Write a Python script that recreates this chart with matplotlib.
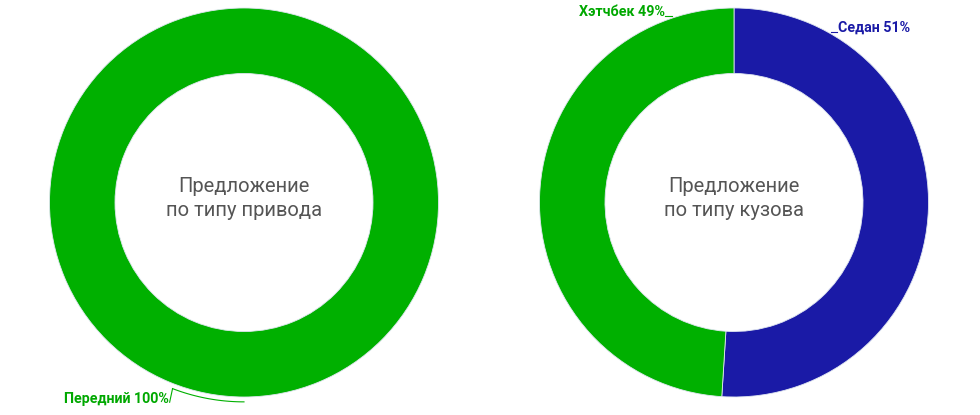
import numpy as np
import matplotlib.pyplot as plt

plt.rcParams['font.family'] = ['Roboto', 'DejaVu Sans']

# drive type
drive_labels = ["Передний"]
drive_values = [100]
drive_colors = ["#00b000"]

# body type
body_labels = ["Седан", "Хэтчбек"]
body_values = [51, 49]
body_colors = ["#1a1aa6", "#00b000"]

titles = ["Предложение\nпо типу привода", "Предложение\nпо типу кузова"]

W, H = 980, 415
fig = plt.figure(figsize=(W / 100, H / 100), dpi=100)

R = 194.5
ring = (194.5 - 129) / 194.5
LABEL_SIZE = 10.3


def make_ax(cx, cy):
    return fig.add_axes([(cx - R) / W, (H - cy - R) / H, 2 * R / W, 2 * R / H])


def donut(ax, values, colors, title):
    ax.pie(values, colors=colors, startangle=90, counterclock=False, radius=1,
           wedgeprops=dict(width=ring, edgecolor="#dfe6f0", linewidth=0.6))
    ax.set_xlim(-1, 1)
    ax.set_ylim(-1, 1)
    ax.set_aspect("equal")
    ax.axis("off")
    ax.text(0, 0.02, title, ha="center", va="center", fontsize=14.5,
            color="#555555", linespacing=1.3)


# left chart
ax1 = make_ax(244, 202.5)
donut(ax1, drive_values, drive_colors, titles[0])
# leader following the arc from the slice middle
mid = 90 - drive_values[0] / sum(drive_values) * 180
t = np.radians(np.linspace(mid, mid - 21, 30))
r = 1.025
ax1.plot(r * np.cos(t), r * np.sin(t), color="#00b000", lw=0.8, clip_on=False)
ex, ey = r * np.cos(t[-1]), r * np.sin(t[-1])
ax1.plot([ex, ex - 0.015], [ey, ey - 0.07], color="#00b000", lw=0.8, clip_on=False)
ax1.text(ex - 0.02, ey - 0.055, f"{drive_labels[0]} {drive_values[0]}%",
         ha="right", va="center", fontsize=LABEL_SIZE, fontweight="bold",
         color="#00a800", clip_on=False)

# right chart
ax2 = make_ax(734, 202.5)
donut(ax2, body_values, body_colors, titles[1])
# Седан label (upper right)
sx, sy = 0.5, 0.877
ax2.plot([sx, sx + 0.03], [sy, sy], color=body_colors[0], lw=0.8, clip_on=False)
ax2.text(sx + 0.035, sy + 0.022, f"{body_labels[0]} {body_values[0]}%",
         ha="left", va="center", fontsize=LABEL_SIZE, fontweight="bold",
         color=body_colors[0], clip_on=False)
# Хэтчбек label (upper left)
hx, hy = -0.32, 0.959
ax2.plot([hx - 0.035, hx], [hy, hy], color="#00a800", lw=0.8, clip_on=False)
ax2.text(hx - 0.035, hy + 0.02, f"{body_labels[1]} {body_values[1]}%",
         ha="right", va="center", fontsize=LABEL_SIZE, fontweight="bold",
         color="#00a800", clip_on=False)

fig.savefig("out.png", dpi=100, facecolor="white")
